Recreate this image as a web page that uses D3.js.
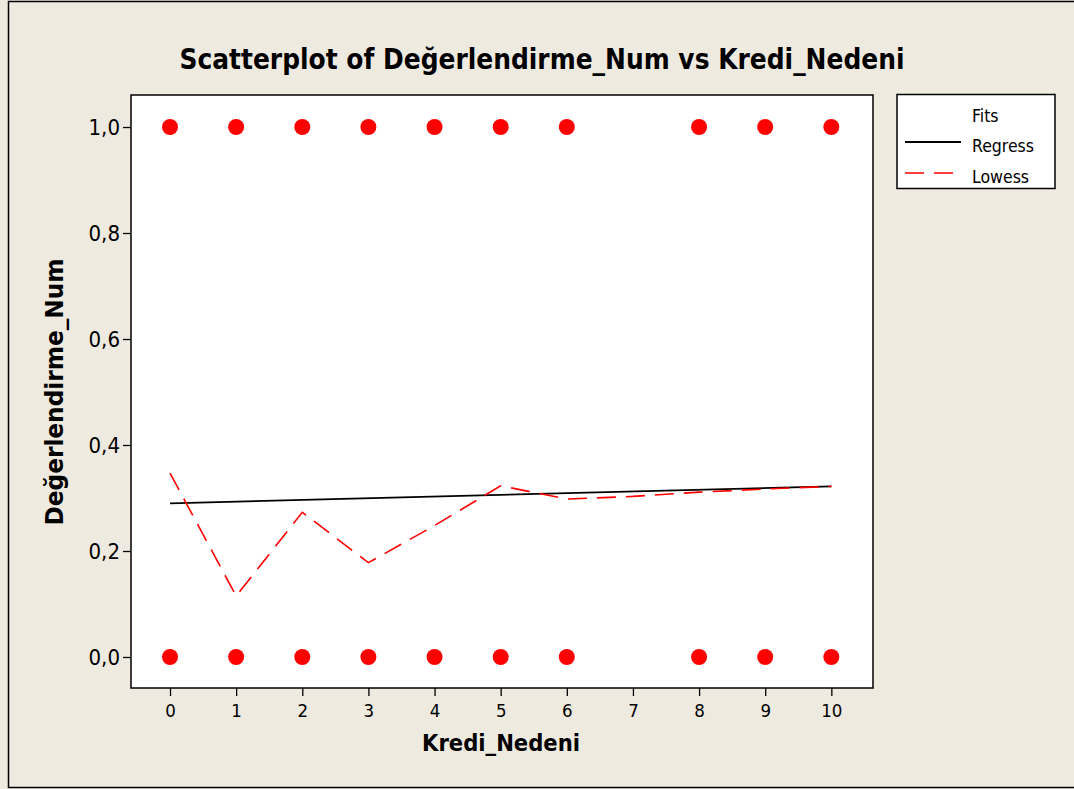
<!DOCTYPE html>
<html>
<head>
<meta charset="utf-8">
<script src="https://cdn.jsdelivr.net/npm/d3@7/dist/d3.min.js"></script>
<style>
  html, body { margin: 0; padding: 0; background: #EEEAE0; }
  svg { display: block; }
  text { font-family: "DejaVu Sans Condensed", "DejaVu Sans", sans-serif; fill: #000; }
</style>
</head>
<body>
<svg id="chart" width="1074" height="789"></svg>
<script>
// Observations: Kredi_Nedeni category vs. Değerlendirme_Num (0/1)
const pointX = [0, 1, 2, 3, 4, 5, 6, 8, 9, 10, 0, 1, 2, 3, 4, 5, 6, 8, 9, 10];
const pointY = [1, 1, 1, 1, 1, 1, 1, 1, 1, 1, 0, 0, 0, 0, 0, 0, 0, 0, 0, 0];

// Linear regression fit
const regressX = [0, 10];
const regressY = [0.290, 0.322];

// Lowess smoother
const lowessX = [0, 1, 2, 3, 4, 5, 6, 7, 8, 9, 10];
const lowessY = [0.347, 0.115, 0.273, 0.178, 0.248, 0.323, 0.298, 0.303, 0.311, 0.317, 0.322];

const xTicks = [0, 1, 2, 3, 4, 5, 6, 7, 8, 9, 10];
const yTicks = [0, 0.2, 0.4, 0.6, 0.8, 1.0];

const legendTitle = "Fits";
const legendItems = ["Regress", "Lowess"];

const svg = d3.select("#chart");

// Figure background and frame
svg.append("rect").attr("x", 8.5).attr("y", 1.5).attr("width", 1080).attr("height", 786)
  .attr("fill", "#EEEAE0").attr("stroke", "#000").attr("stroke-width", 1.5);

const plot = { left: 131, right: 873, top: 95, bottom: 688 };

const x = d3.scaleLinear().domain([-0.59, 10.63]).range([plot.left, plot.right]);
const y = d3.scaleLinear().domain([-0.0585, 1.0604]).range([plot.bottom, plot.top]);

// Plot area
svg.append("rect")
  .attr("x", plot.left).attr("y", plot.top)
  .attr("width", plot.right - plot.left).attr("height", plot.bottom - plot.top)
  .attr("fill", "#fff").attr("stroke", "#000").attr("stroke-width", 1.5);

const fmt = v => d3.format(".1f")(v).replace(".", ",");

// Axes
const yAxis = d3.axisLeft(y).tickValues(yTicks).tickFormat(fmt).tickSize(8).tickPadding(3);
const gy = svg.append("g").attr("transform", `translate(${plot.left},0)`).call(yAxis);
gy.select(".domain").remove();
gy.selectAll("line").attr("stroke", "#000").attr("stroke-width", 1.3);
gy.selectAll("text").style("font-size", "22px").attr("fill", "#000");

const xAxis = d3.axisBottom(x).tickValues(xTicks).tickFormat(d3.format("d")).tickSize(8).tickPadding(8);
const gx = svg.append("g").attr("transform", `translate(0,${plot.bottom})`).call(xAxis);
gx.select(".domain").remove();
gx.selectAll("line").attr("stroke", "#000").attr("stroke-width", 1.3);
gx.selectAll("text").style("font-size", "18.5px").attr("fill", "#000");

// Fitted lines
const regressData = regressX.map((v, i) => [v, regressY[i]]);
const lowessData = lowessX.map((v, i) => [v, lowessY[i]]);
const line = d3.line().x(d => x(d[0])).y(d => y(d[1]));

svg.append("path").datum(regressData).attr("d", line)
  .attr("fill", "none").attr("stroke", "#000").attr("stroke-width", 1.8);
svg.append("path").datum(lowessData).attr("d", line)
  .attr("fill", "none").attr("stroke", "#ff0000").attr("stroke-width", 1.6)
  .attr("stroke-dasharray", "19,10");

// Points
svg.append("g").selectAll("circle")
  .data(pointX.map((v, i) => [v, pointY[i]]))
  .join("circle")
  .attr("cx", d => x(d[0])).attr("cy", d => y(d[1]))
  .attr("r", 8).attr("fill", "#ff0000");

// Title and axis titles
svg.append("text").attr("x", 542).attr("y", 69).attr("text-anchor", "middle")
  .style("font-size", "28px").style("font-weight", "bold")
  .attr("textLength", 725).attr("lengthAdjust", "spacingAndGlyphs")
  .text("Scatterplot of Değerlendirme_Num vs Kredi_Nedeni");

svg.append("text").attr("x", 501).attr("y", 751).attr("text-anchor", "middle")
  .style("font-size", "23px").style("font-weight", "bold")
  .attr("textLength", 158).attr("lengthAdjust", "spacingAndGlyphs")
  .text("Kredi_Nedeni");

svg.append("text").attr("transform", "translate(63,392) rotate(-90)").attr("text-anchor", "middle")
  .style("font-size", "24px").style("font-weight", "bold")
  .attr("textLength", 267).attr("lengthAdjust", "spacingAndGlyphs")
  .text("Değerlendirme_Num");

// Legend
const lg = svg.append("g");
lg.append("rect").attr("x", 897).attr("y", 94.5).attr("width", 158).attr("height", 94)
  .attr("fill", "#fff").attr("stroke", "#000").attr("stroke-width", 1.5);
lg.append("text").attr("x", 972).attr("y", 122).style("font-size", "17.5px").text(legendTitle);
const legendStyles = [
  { stroke: "#000", width: 1.8, dash: null },
  { stroke: "#ff0000", width: 1.6, dash: "19,10" }
];
legendItems.forEach((name, i) => {
  const cy = 142 + i * 31;
  lg.append("line").attr("x1", 905).attr("x2", 961).attr("y1", cy).attr("y2", cy)
    .attr("stroke", legendStyles[i].stroke).attr("stroke-width", legendStyles[i].width)
    .attr("stroke-dasharray", legendStyles[i].dash);
  lg.append("text").attr("x", 972).attr("y", cy + 10).style("font-size", "17.5px").text(name);
});
</script>
</body>
</html>
